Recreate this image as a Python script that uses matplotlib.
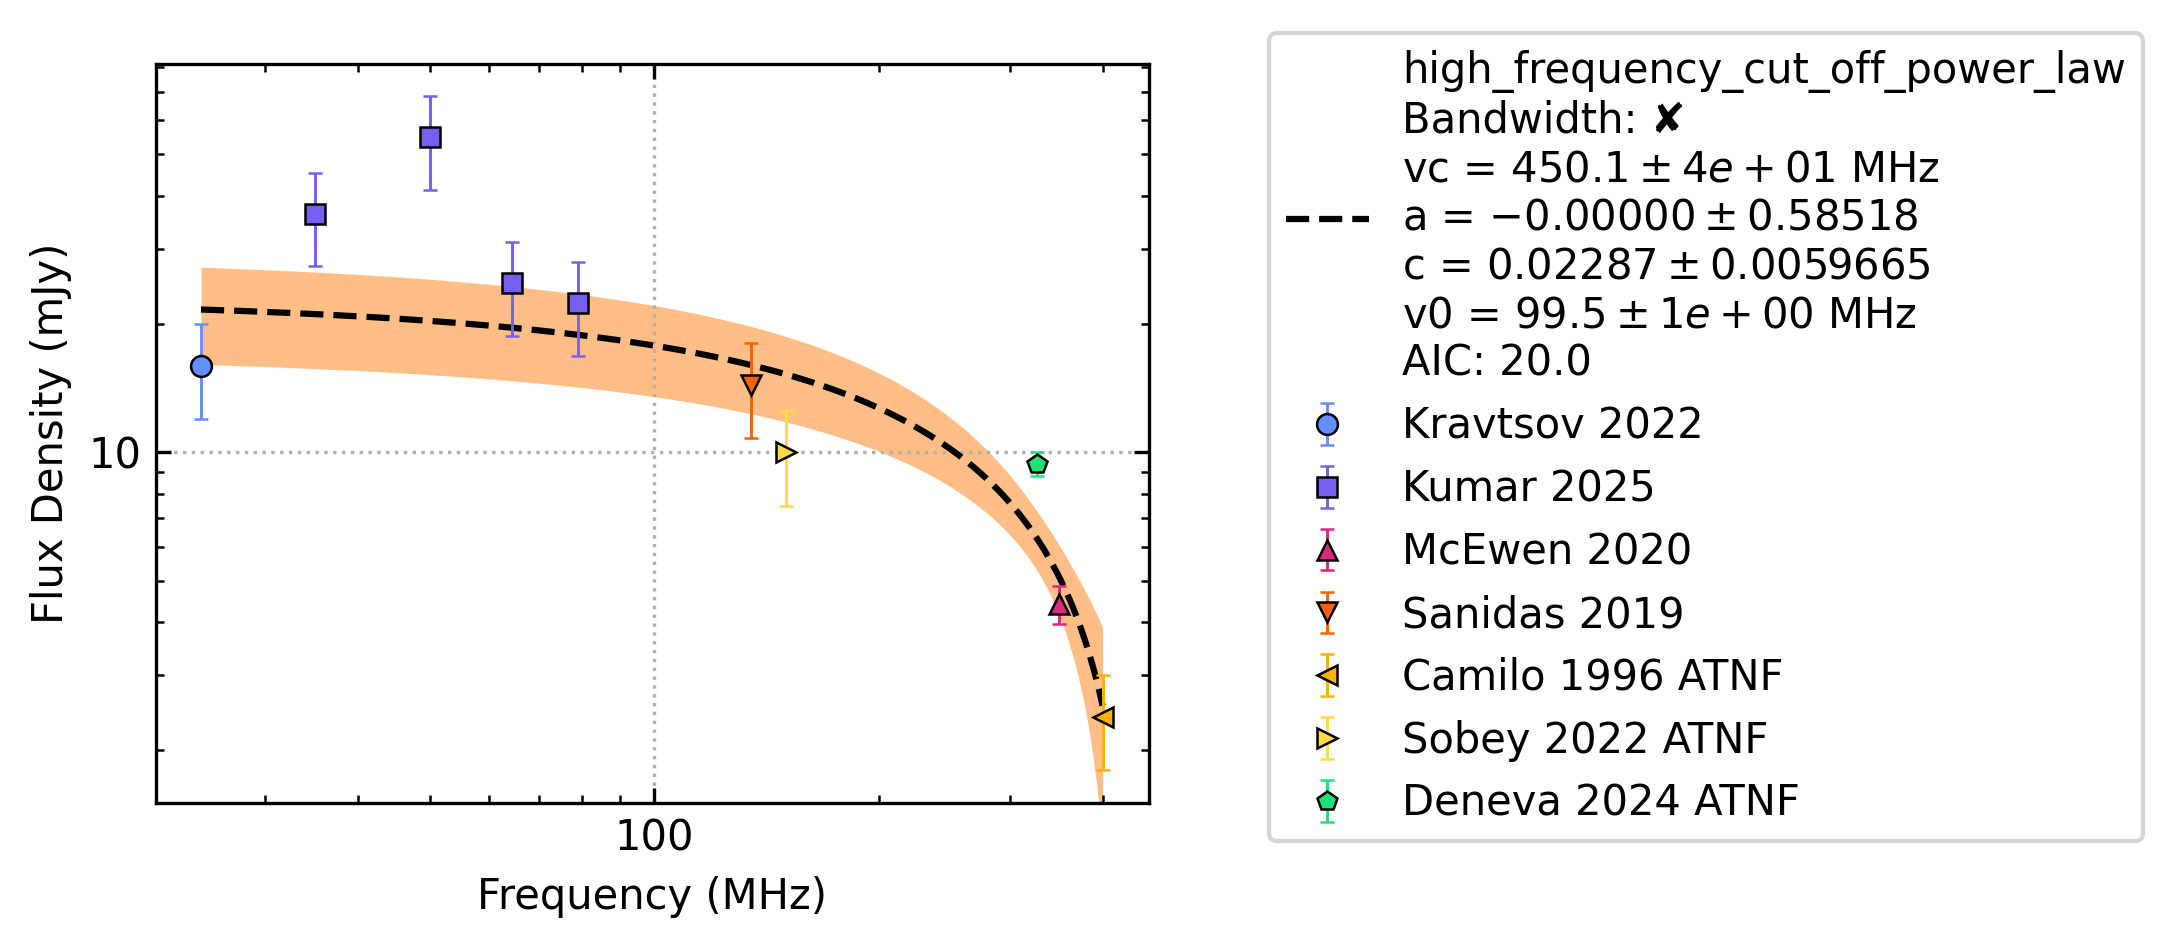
import matplotlib
matplotlib.use("Agg")
import matplotlib.pyplot as plt
import numpy as np
from matplotlib.ticker import FormatStrFormatter, NullFormatter

# measurements (MHz, mJy)
kravtsov_freq = [24.6]
kravtsov_flux = [15.95]
kravtsov_err = [4.0]

kumar_freq = [35.0, 50.0, 64.4, 79.0]
kumar_flux = [36.3, 54.8, 24.9, 22.4]
kumar_err = [9.0, 13.6, 6.15, 5.55]

mcewen_freq = [350.0]
mcewen_flux = [4.4]
mcewen_err = [0.45]

sanidas_freq = [135.0]
sanidas_flux = [14.4]
sanidas_err = [3.6]

camilo_freq = [400.0]
camilo_flux = [2.4]
camilo_err = [0.6]

sobey_freq = [150.0]
sobey_flux = [10.0]
sobey_err = [2.5]

deneva_freq = [327.0]
deneva_flux = [9.4]
deneva_err = [0.6]

# fit parameters as printed in the legend (c in Jy)
vc, vc_err = 450.1, 40.0
a_fit = -0.00000
c_fit, c_err = 0.02287, 0.0059665
v0 = 99.5
rho = -0.8   # c / vc correlation, estimated from the width of the band

fit_label = ("high_frequency_cut_off_power_law\n"
             "Bandwidth: \u2718\n"
             "vc = $450.1 \\pm 4e+01$ MHz\n"
             "a = $-0.00000 \\pm 0.58518$\n"
             "c = $0.02287 \\pm 0.0059665$\n"
             "v0 = $99.5 \\pm 1e+00$ MHz\n"
             "AIC: 20.0")

datasets = [
    ("Kravtsov 2022", kravtsov_freq, kravtsov_flux, kravtsov_err, "o", "#648FFF"),
    ("Kumar 2025", kumar_freq, kumar_flux, kumar_err, "s", "#785EF0"),
    ("McEwen 2020", mcewen_freq, mcewen_flux, mcewen_err, "^", "#DC267F"),
    ("Sanidas 2019", sanidas_freq, sanidas_flux, sanidas_err, "v", "#FE6100"),
    ("Camilo 1996 ATNF", camilo_freq, camilo_flux, camilo_err, "<", "#FFB000"),
    ("Sobey 2022 ATNF", sobey_freq, sobey_flux, sobey_err, ">", "#FFDC46"),
    ("Deneva 2024 ATNF", deneva_freq, deneva_flux, deneva_err, "p", "#1CE278"),
]

# evaluate the fitted model over the frequency span of the data
all_freq = kravtsov_freq + kumar_freq + mcewen_freq + sanidas_freq + camilo_freq + sobey_freq + deneva_freq
nu = np.geomspace(min(all_freq), max(all_freq), 300)
fit_flux = 1000 * c_fit * (nu / v0) ** a_fit * (1 - nu / vc)
d_c = 1000 * c_err * (nu / v0) ** a_fit * (1 - nu / vc)
d_vc = 1000 * c_fit * (nu / v0) ** a_fit * nu / vc ** 2 * vc_err
sigma = np.sqrt(d_c ** 2 + d_vc ** 2 + 2 * rho * d_c * d_vc)

fig = plt.figure(figsize=(7.24, 3.16), dpi=300)
ax = fig.add_axes([0.0718, 0.1533, 0.4572, 0.7792])

ax.fill_between(nu, fit_flux - sigma, fit_flux + sigma, color="tab:orange", alpha=0.5,
                linewidth=0, zorder=1)
ax.plot(nu, fit_flux, "k--", lw=1.5, label=fit_label, zorder=2)

for name, f, s, e, mk, col in datasets:
    ax.errorbar(f, s, yerr=e, fmt=mk, color=col, ecolor=col, markersize=5,
                markeredgecolor="k", markeredgewidth=0.6, elinewidth=0.7,
                capsize=1.6, capthick=1.0, label=name, zorder=3)

ax.set_xscale("log")
ax.set_yscale("log")
ax.set_xlim(21.4, 461.7)
ax.set_ylim(1.508, 81.4)

for axis in (ax.xaxis, ax.yaxis):
    axis.set_major_formatter(FormatStrFormatter("%g"))
    axis.set_minor_formatter(NullFormatter())

ax.tick_params(which="both", direction="in", top=True, right=True)
ax.grid(True, which="major", ls=":", color="#b0b0b0", lw=0.8)

ax.set_xlabel("Frequency (MHz)")
ax.set_ylabel("Flux Density (mJy)")

ax.legend(loc="upper left", bbox_to_anchor=(0.5843, 0.9647),
          bbox_transform=fig.transFigure, borderaxespad=0)

fig.savefig("out.png", dpi=300)
